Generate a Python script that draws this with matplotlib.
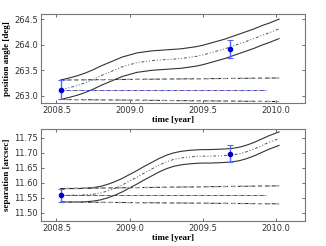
import numpy as np
import matplotlib
matplotlib.use('Agg')
import matplotlib.pyplot as plt

# epochs of the background-track curves (year)
t = [2008.53, 2008.60, 2008.65, 2008.70, 2008.75, 2008.80, 2008.85, 2008.90, 2008.95, 2009.00,
     2009.05, 2009.10, 2009.15, 2009.20, 2009.25, 2009.30, 2009.35, 2009.40, 2009.45, 2009.50,
     2009.55, 2009.60, 2009.65, 2009.70, 2009.75, 2009.80, 2009.85, 2009.90, 2009.95, 2010.02]

# position angle (deg): upper / middle / lower
pa_hi = [263.31, 263.36, 263.40, 263.45, 263.51, 263.58, 263.64, 263.70, 263.76, 263.80,
         263.84, 263.86, 263.88, 263.89, 263.90, 263.91, 263.92, 263.94, 263.96, 263.99,
         264.03, 264.07, 264.11, 264.16, 264.21, 264.26, 264.31, 264.37, 264.42, 264.50]
pa_mid = [263.12, 263.17, 263.21, 263.26, 263.32, 263.39, 263.45, 263.51, 263.57, 263.61,
          263.65, 263.67, 263.69, 263.70, 263.71, 263.72, 263.73, 263.75, 263.77, 263.80,
          263.84, 263.88, 263.92, 263.97, 264.02, 264.07, 264.12, 264.18, 264.23, 264.31]
pa_lo = [262.93, 262.98, 263.02, 263.07, 263.13, 263.20, 263.26, 263.32, 263.38, 263.42,
         263.46, 263.48, 263.50, 263.51, 263.52, 263.53, 263.54, 263.56, 263.58, 263.61,
         263.65, 263.69, 263.73, 263.78, 263.83, 263.88, 263.93, 263.99, 264.04, 264.12]

# separation (arcsec): upper / middle / lower
sep_hi = [11.581, 11.581, 11.581, 11.582, 11.584, 11.588, 11.595, 11.604, 11.615, 11.628,
          11.641, 11.655, 11.668, 11.681, 11.692, 11.700, 11.705, 11.708, 11.710, 11.711,
          11.711, 11.712, 11.713, 11.715, 11.719, 11.726, 11.735, 11.746, 11.757, 11.770]
sep_mid = [11.559, 11.559, 11.559, 11.560, 11.562, 11.566, 11.573, 11.582, 11.593, 11.606,
           11.619, 11.633, 11.646, 11.659, 11.670, 11.678, 11.683, 11.686, 11.688, 11.689,
           11.689, 11.690, 11.691, 11.693, 11.697, 11.704, 11.713, 11.724, 11.735, 11.748]
sep_lo = [11.536, 11.536, 11.536, 11.537, 11.539, 11.543, 11.550, 11.559, 11.570, 11.583,
          11.596, 11.610, 11.623, 11.636, 11.647, 11.655, 11.660, 11.663, 11.665, 11.666,
          11.666, 11.667, 11.668, 11.670, 11.674, 11.681, 11.690, 11.701, 11.712, 11.725]

# common proper motion band (start, end)
t_cpm = [2008.53, 2010.02]
pa_cpm_hi = [263.31, 263.35]
pa_cpm_lo = [262.93, 262.89]
sep_cpm_hi = [11.581, 11.590]
sep_cpm_lo = [11.536, 11.530]
t_const = [2008.53, 2009.93]
pa_const = [263.12, 263.12]
sep_const = [11.559, 11.559]

# measurements
t_obs = [2008.53, 2009.686]
pa_obs = [263.12, 263.92]
pa_err = [0.19, 0.17]
sep_obs = [11.559, 11.697]
sep_err = [0.022, 0.029]

fig = plt.figure(figsize=(3.26, 2.46), dpi=100)
ax1 = fig.add_axes([0.125, 0.581, 0.811, 0.362])
ax2 = fig.add_axes([0.125, 0.102, 0.811, 0.374])

lab = dict(family='Liberation Serif', weight='bold', size=6.5)
for ax, hi, mid, lo, chi, clo, cst, yo, ye, ylab in [
        (ax1, pa_hi, pa_mid, pa_lo, pa_cpm_hi, pa_cpm_lo, pa_const, pa_obs, pa_err, 'position angle [deg]'),
        (ax2, sep_hi, sep_mid, sep_lo, sep_cpm_hi, sep_cpm_lo, sep_const, sep_obs, sep_err, 'separation [arcsec]')]:
    ax.plot(t, hi, '-', color='#333333', lw=0.8)
    ax.plot(t, lo, '-', color='#333333', lw=0.8)
    ax.plot(t, mid, color='#555555', lw=0.7, ls=(0, (3, 2, 1, 2, 1, 2)))
    for c in (chi, clo):
        ax.plot(t_cpm, c, color='#222222', lw=0.7, ls=(0, (4, 3)))
        ax.plot(t_cpm, c, color='#999999', lw=0.9, ls=(3.5, (3.5, 3.5)))
    ax.plot(t_const, cst, color='#555555', lw=0.6, ls=(0, (3, 2, 1, 2)))
    ax.plot(t_const, cst, color='blue', lw=0.6, ls=(2, (3, 2, 1, 2)), alpha=0.7)
    ax.errorbar(t_obs, yo, yerr=ye, fmt='o', color='#0000cc', ms=3, ecolor='#5566ff',
                elinewidth=1.0, capsize=2, capthick=0.8)
    ax.set_xlim(2008.393, 2010.198)
    ax.set_xticks([2008.5, 2009.0, 2009.5, 2010.0])
    ax.set_xticklabels(['2008.5', '2009.0', '2009.5', '2010.0'])
    ax.tick_params(direction='in', length=2, width=0.5, labelsize=6, pad=2,
                   top=True, right=True, colors='#333333')
    for s in ax.spines.values():
        s.set_color('#777777')
        s.set_linewidth(0.8)
    ax.set_xlabel('time [year]', labelpad=1, **lab)
    ax.set_ylabel(ylab, labelpad=2, **lab)

ax1.set_ylim(262.86, 264.6)
ax1.set_yticks([263.0, 263.5, 264.0, 264.5])
ax1.set_yticklabels(['263.0', '263.5', '264.0', '264.5'])
ax2.set_ylim(11.473, 11.78)
ax2.set_yticks([11.50, 11.55, 11.60, 11.65, 11.70, 11.75])
ax2.set_yticklabels(['11.50', '11.55', '11.60', '11.65', '11.70', '11.75'])

fig.savefig('out.png', dpi=100)
